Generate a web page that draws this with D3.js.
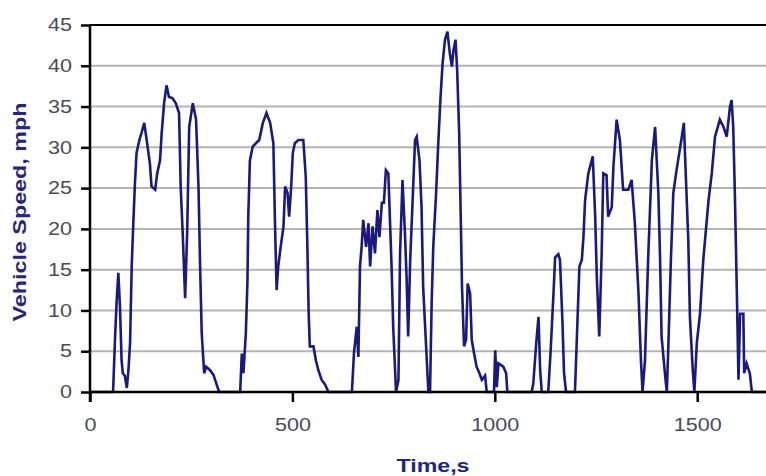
<!DOCTYPE html>
<html>
<head>
<meta charset="utf-8">
<script src="https://cdn.jsdelivr.net/npm/d3@7"></script>
<style>
    body { margin: 0; background: #fff; }
    svg { display: block; font-family: "Liberation Sans", Arial, sans-serif; }
</style>
</head>
<body>
<script>
    // time (s) and speed (mph)
    var timeSec = [0, 57, 62, 66, 70, 74, 78, 81, 86, 91, 95, 99, 103, 107, 111, 115, 122, 128, 134, 140,
        148, 152, 161, 166, 173, 177, 183, 189, 195, 204, 212, 220, 224, 229, 235, 240, 245, 254, 262, 268,
        272, 276, 282, 287, 296, 305, 313, 319,
        371, 375, 379, 385, 389, 391, 395, 402, 410, 418, 427, 436, 445, 453, 457, 461, 465, 471, 478, 482,
        488, 492, 497, 501, 506, 515, 527, 533, 537, 540, 543, 552, 558, 564, 572, 581, 589,
        647, 652, 659, 663, 667, 671, 675, 682, 688, 692, 698, 704, 710, 715, 721, 726, 731, 737, 741, 745,
        749, 756, 762, 766, 772, 778, 782, 786, 791, 797, 803, 807, 814, 819, 823, 832, 836,
        840, 844, 848, 855, 860, 866, 871, 877, 883, 889, 894, 898, 903, 907, 912, 916, 919, 924, 929, 933,
        939, 943, 949, 955, 962, 968, 976, 980,
        998, 1001, 1005, 1009, 1021, 1028, 1031,
        1091, 1095, 1103, 1108, 1112, 1116,
        1132, 1138, 1145, 1149, 1157, 1161, 1167, 1171, 1176,
        1198, 1202, 1209, 1215, 1219, 1223, 1231, 1242, 1248, 1252, 1258, 1264, 1268, 1276, 1280, 1289,
        1293, 1301, 1309, 1317, 1330, 1338, 1346, 1355, 1361, 1365, 1371, 1379, 1388, 1396, 1404, 1408,
        1412, 1421, 1425, 1429, 1435, 1441, 1449, 1462, 1467, 1472, 1478, 1482, 1489, 1493, 1499, 1507,
        1515, 1528, 1536, 1544, 1556, 1565, 1573, 1581, 1585, 1589, 1593, 1598, 1602, 1606, 1614, 1616,
        1622, 1630, 1635, 1700];
    var speedMph = [0, 0, 6.8, 11.3, 14.6, 10.5, 3.9, 2.3, 2, 0.5, 2.7, 6, 15.4, 20.7, 25.6, 29.3, 30.9, 31.9, 33, 30.9,
        28, 25.2, 24.8, 26.8, 28.4, 31.7, 35.4, 37.6, 36.2, 36, 35.4, 34.2, 25.2, 19.5, 11.5, 19.5, 32.5, 35.4, 33.4, 25.2,
        15.4, 7.2, 2.3, 3.1, 2.7, 2.1, 0.9, 0,
        0, 4.7, 2.3, 7.2, 13.7, 21.5, 28.4, 30.1, 30.5, 30.9, 33, 34.2, 33, 30.5, 20.7, 12.5, 15.4, 17.8, 20.3, 25.2,
        24.4, 21.5, 25.2, 29.3, 30.5, 30.9, 30.9, 26.4, 17.8, 10, 5.6, 5.6, 3.9, 2.7, 1.5, 0.9, 0,
        0, 4.7, 8, 4.3, 15.4, 17.8, 21.1, 17.8, 20.7, 15.4, 20.3, 17, 22.3, 19, 23.2, 23.2, 27.2, 26.8, 21.1, 15.4,
        8, 0, 1.5, 17, 26, 19.5, 14.1, 6.8, 16.2, 23.5, 30.9, 31.3, 28.4, 22.7, 12.9, 3.9, 0,
        0, 10.9, 17.8, 24.4, 30.1, 36.2, 40.3, 43.2, 44.2, 41.5, 39.9, 41.9, 43.2, 39.5, 31.7, 21.1, 12.9, 5.6, 6.4, 13.3,
        12.1, 6.4, 4.7, 3.1, 2.3, 1.5, 2, 0,
        0, 5.1, 0.6, 3.5, 3.1, 2.3, 0,
        0, 1, 6.4, 9.2, 2.7, 0,
        0, 5.1, 12.1, 16.5, 16.9, 16.2, 8.8, 2.3, 0,
        0, 5.6, 15.4, 16.2, 19, 23.5, 26.8, 28.9, 21.5, 14.1, 6.8, 17, 26.8, 26.6, 21.5, 22.7,
        27.6, 33.4, 30.9, 24.8, 24.8, 26, 20.7, 12.1, 3.9, 0, 3.9, 16.6, 28.4, 32.5, 24.4, 17,
        6.8, 1.9, 0, 6, 16.2, 24.4, 27.2, 31.3, 33, 26.4, 18.6, 9.2, 2.7, 0, 6, 9.6,
        16.2, 23.5, 26.8, 31.3, 33.4, 32.5, 31.3, 35, 35.8, 32.5, 24.4, 12.1, 1.5, 9.6, 9.6, 2.3,
        3.5, 2.3, 0, 0];

    var yTicks = [0, 5, 10, 15, 20, 25, 30, 35, 40, 45];
    var xTicks = [0, 500, 1000, 1500];

    var points = timeSec.map(function (t, i) { return { t: t, v: speedMph[i] }; });

    var svgWidth = 766, svgHeight = 476;
    var plotLeft = 90, plotTop = 25, plotBottom = 392;

    var svg = d3.select('body')
        .append('svg')
        .attr('width', svgWidth)
        .attr('height', svgHeight);

    var x = d3.scaleLinear().domain([0, 1700]).range([plotLeft, plotLeft + 1700 * 0.4048]);
    var y = d3.scaleLinear().domain([0, 45]).range([plotBottom, plotTop]);

    // gridlines
    svg.append('g')
        .selectAll('line')
        .data(yTicks.filter(function (d) { return d > 0 && d < 45; }))
        .enter()
        .append('line')
        .attr('x1', plotLeft)
        .attr('x2', svgWidth)
        .attr('y1', function (d) { return y(d); })
        .attr('y2', function (d) { return y(d); })
        .attr('stroke', '#b4b4b4')
        .attr('stroke-width', 2);

    // top border
    svg.append('line')
        .attr('x1', plotLeft).attr('x2', svgWidth)
        .attr('y1', y(45)).attr('y2', y(45))
        .attr('stroke', '#000').attr('stroke-width', 2);

    // speed trace
    var line = d3.line()
        .x(function (d) { return x(d.t); })
        .y(function (d) { return y(d.v); });

    svg.append('path')
        .datum(points)
        .attr('d', line)
        .attr('fill', 'none')
        .attr('stroke', '#1a1a7c')
        .attr('stroke-width', 2.6)
        .attr('stroke-linejoin', 'miter');

    // axes
    var yAxis = svg.append('g')
        .attr('transform', 'translate(' + plotLeft + ',0)')
        .call(d3.axisLeft(y).tickValues(yTicks).tickSize(9).tickPadding(9).tickSizeOuter(0));

    var xAxis = svg.append('g')
        .attr('transform', 'translate(0,' + plotBottom + ')')
        .call(d3.axisBottom(x).tickValues(xTicks).tickFormat(d3.format('d'))
            .tickSize(10).tickPadding(16).tickSizeOuter(0));

    [yAxis, xAxis].forEach(function (ax) {
        ax.select('.domain').attr('stroke', '#000').attr('stroke-width', 2.5);
        ax.selectAll('.tick line').attr('stroke', '#000').attr('stroke-width', 2.5);
        ax.selectAll('.tick text')
            .attr('fill', '#4a4a58')
            .style('font-size', '18px')
            .attr('textLength', function (d) { return String(d).length * 12; })
            .attr('lengthAdjust', 'spacingAndGlyphs');
    });
    xAxis.select('.domain').attr('d', 'M' + plotLeft + ',0H' + svgWidth);
    yAxis.select('.domain').attr('d', 'M0,' + (plotBottom + 10) + 'V' + plotTop);

    // titles
    svg.append('text')
        .attr('x', 433)
        .attr('y', 472)
        .attr('text-anchor', 'middle')
        .attr('fill', '#25257a')
        .style('font-size', '19px')
        .style('font-weight', 'bold')
        .attr('textLength', 73)
        .attr('lengthAdjust', 'spacingAndGlyphs')
        .text('Time,s');

    svg.append('text')
        .attr('transform', 'translate(26,212) rotate(-90)')
        .attr('text-anchor', 'middle')
        .attr('fill', '#25257a')
        .style('font-size', '19px')
        .style('font-weight', 'bold')
        .attr('textLength', 219)
        .attr('lengthAdjust', 'spacingAndGlyphs')
        .text('Vehicle Speed, mph');
</script>
</body>
</html>
